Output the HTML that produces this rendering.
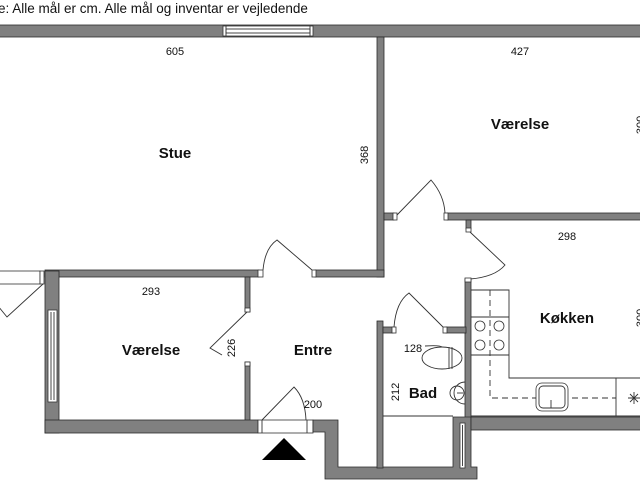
<!DOCTYPE html>
<html><head><meta charset="utf-8"><style>
html,body{margin:0;padding:0;background:#fff;}
svg{display:block;}
text{font-family:"Liberation Sans",sans-serif;fill:#111;}
.w{fill:#808080;stroke:#2a2a2a;stroke-width:0.8;}
.l{fill:none;stroke:#333;stroke-width:0.9;}
.c{fill:#fff;stroke:#333;stroke-width:0.8;}
.n{font-size:11px;}
.b{font-size:15px;font-weight:bold;}
</style></head><body>
<svg width="640" height="480" viewBox="0 0 640 480" xmlns="http://www.w3.org/2000/svg">
<text x="-2" y="13" style="font-size:13.5px">e: Alle mål er cm. Alle mål og inventar er vejledende</text>

<rect class="w" x="-2" y="25" width="644" height="12"/>
<rect class="c" x="223" y="26" width="90" height="10"/>
<rect class="l" x="226" y="29" width="84" height="4"/>
<line class="l" x1="226" y1="26" x2="226" y2="36"/><line class="l" x1="310" y1="26" x2="310" y2="36"/>

<rect class="w" x="377" y="37" width="7" height="240"/>
<rect class="w" x="45" y="270" width="214" height="7"/>
<rect class="c" x="258" y="270" width="5" height="7"/>
<rect class="w" x="315" y="270" width="69" height="7"/>
<rect class="c" x="312" y="270" width="4" height="7"/>
<path class="l" d="M263 270 Q265 248 277 240 L312 270"/>

<rect class="w" x="384" y="213" width="10" height="7"/>
<rect class="c" x="393" y="213" width="4" height="7"/>
<rect class="w" x="447" y="213" width="195" height="7"/>
<rect class="c" x="444" y="213" width="4" height="7"/>
<path class="l" d="M397 215 L431 180 Q444 195 445 213"/>
<rect class="w" x="466" y="220" width="5" height="9"/>
<rect class="c" x="466" y="228" width="5" height="4"/>
<path class="l" d="M470 232 L505 265 Q495 277 470 279"/>

<rect class="w" x="465" y="279" width="6" height="140"/>
<rect class="c" x="465" y="278" width="6" height="4"/>

<rect class="c" x="-2" y="271" width="42" height="13"/>
<rect class="c" x="40" y="271" width="4" height="13"/>
<path class="l" d="M43 284 L7 317 L-2 306"/>

<rect class="w" x="45" y="271" width="14" height="162"/>
<rect class="c" x="48" y="310" width="9" height="92"/>
<line class="l" x1="51" y1="312" x2="51" y2="400"/><line class="l" x1="54" y1="312" x2="54" y2="400"/>
<rect class="w" x="245" y="277" width="5" height="35"/>
<rect class="c" x="245" y="308" width="5" height="4"/>
<rect class="w" x="245" y="362" width="5" height="60"/>
<rect class="c" x="245" y="362" width="5" height="4"/>
<path class="l" d="M247 312 L210 348 L222 355"/>
<rect class="w" x="45" y="420" width="213" height="13"/>

<rect class="c" x="258" y="420" width="55" height="13"/>
<line class="l" x1="262" y1="420" x2="262" y2="433"/><line class="l" x1="307" y1="420" x2="307" y2="433"/>
<path class="l" d="M262 420 L294 387 Q305 398 306 420"/>
<polygon points="262,460 306,460 284,438" fill="#000"/>

<path class="w" d="M313 420 H338 V467 H453 V417 H471 V467 H477 V479 H325 V432 H313 Z"/>
<rect class="c" x="460" y="423" width="5" height="45"/>
<line class="l" x1="462.5" y1="425" x2="462.5" y2="466"/>

<rect class="w" x="377" y="321" width="6" height="147"/>
<rect class="w" x="383" y="327" width="10" height="6"/>
<rect class="c" x="392" y="327" width="4" height="6"/>
<rect class="w" x="446" y="327" width="20" height="6"/>
<rect class="c" x="443" y="327" width="4" height="6"/>
<path class="l" d="M394 327 Q396 302 409 293 L443 327"/>
<line class="l" x1="383" y1="416" x2="453" y2="416"/>
<ellipse class="l" cx="442" cy="358" rx="20" ry="11"/>
<line class="l" x1="449" y1="347" x2="449" y2="369"/><line class="l" x1="452" y1="347" x2="452" y2="369"/>
<path class="l" d="M425 346 Q440 345 442 347"/>
<path class="l" d="M465 382 A11 11 0 0 0 465 404"/>
<circle class="l" cx="457" cy="393" r="7"/>
<line class="l" x1="457" y1="393" x2="463" y2="393"/>

<rect class="w" x="471" y="417" width="171" height="13"/>
<path class="l" d="M471 290 H509 V378 H642"/>
<line class="l" x1="471" y1="416" x2="642" y2="416"/>
<line class="l" x1="471" y1="317" x2="509" y2="317"/><line class="l" x1="471" y1="355" x2="509" y2="355"/>
<line class="l" x1="616" y1="378" x2="616" y2="416"/>
<path class="l" d="M490 290 V398 H616" stroke-dasharray="6 4"/>
<circle class="c" cx="480" cy="326" r="5"/><circle class="c" cx="499" cy="326" r="5"/>
<circle class="c" cx="480" cy="345" r="5"/><circle class="c" cx="499" cy="345" r="5"/>
<rect class="c" x="536" y="383" width="32" height="28" rx="6"/>
<rect class="l" x="539" y="386" width="26" height="22" rx="4"/>
<line class="l" x1="551" y1="400" x2="551" y2="408"/>
<path class="l" d="M628 398 H640 M634 392 V404 M630 394 L638 402 M638 394 L630 402"/>

<text class="n" x="175" y="55" text-anchor="middle">605</text>
<text class="b" x="175" y="158" text-anchor="middle">Stue</text>
<text class="n" transform="translate(368,155) rotate(-90)" text-anchor="middle">368</text>
<text class="n" x="520" y="55" text-anchor="middle">427</text>
<text class="b" x="520" y="129" text-anchor="middle">Værelse</text>
<text class="n" transform="translate(644,125) rotate(-90)" text-anchor="middle">300</text>
<text class="n" x="567" y="240" text-anchor="middle">298</text>
<text class="b" x="567" y="323" text-anchor="middle">Køkken</text>
<text class="n" transform="translate(644,318) rotate(-90)" text-anchor="middle">300</text>
<text class="n" x="151" y="295" text-anchor="middle">293</text>
<text class="b" x="151" y="355" text-anchor="middle">Værelse</text>
<text class="n" transform="translate(235,348) rotate(-90)" text-anchor="middle">226</text>
<text class="b" x="313" y="355" text-anchor="middle">Entre</text>
<text class="n" x="313" y="408" text-anchor="middle">200</text>
<text class="n" x="413" y="352" text-anchor="middle">128</text>
<text class="b" x="423" y="398" text-anchor="middle">Bad</text>
<text class="n" transform="translate(399,392) rotate(-90)" text-anchor="middle">212</text>
</svg>
</body></html>
